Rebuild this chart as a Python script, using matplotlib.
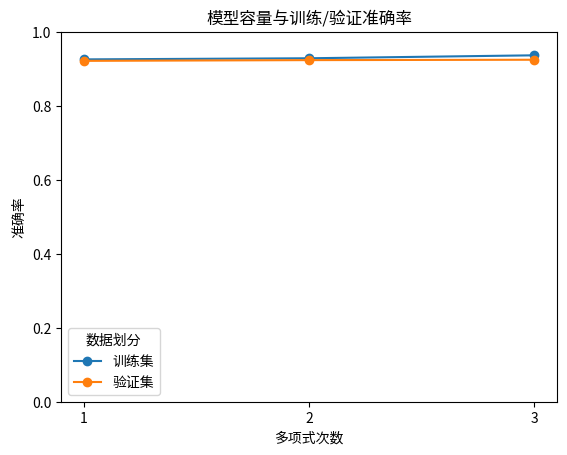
import matplotlib
matplotlib.use('Agg')
import matplotlib.pyplot as plt

plt.rcParams['font.family'] = ['Noto Sans CJK JP', 'DejaVu Sans']

degrees = [1, 2, 3]
train_acc = [0.926, 0.929, 0.937]
val_acc = [0.922, 0.924, 0.925]

fig = plt.figure(figsize=(5.67, 4.55), dpi=100)
ax = fig.add_axes([61/567, 53/455, 496/567, 370/455])

ax.plot(degrees, train_acc, marker='o', label='训练集')
ax.plot(degrees, val_acc, marker='o', label='验证集')

ax.set_ylim(0, 1.0)
ax.set_xticks(degrees)
ax.set_xlabel('多项式次数')
ax.set_ylabel('准确率')
ax.set_title('模型容量与训练/验证准确率')
ax.legend(title='数据划分', loc='lower left')

fig.savefig('out.png', dpi=100)
